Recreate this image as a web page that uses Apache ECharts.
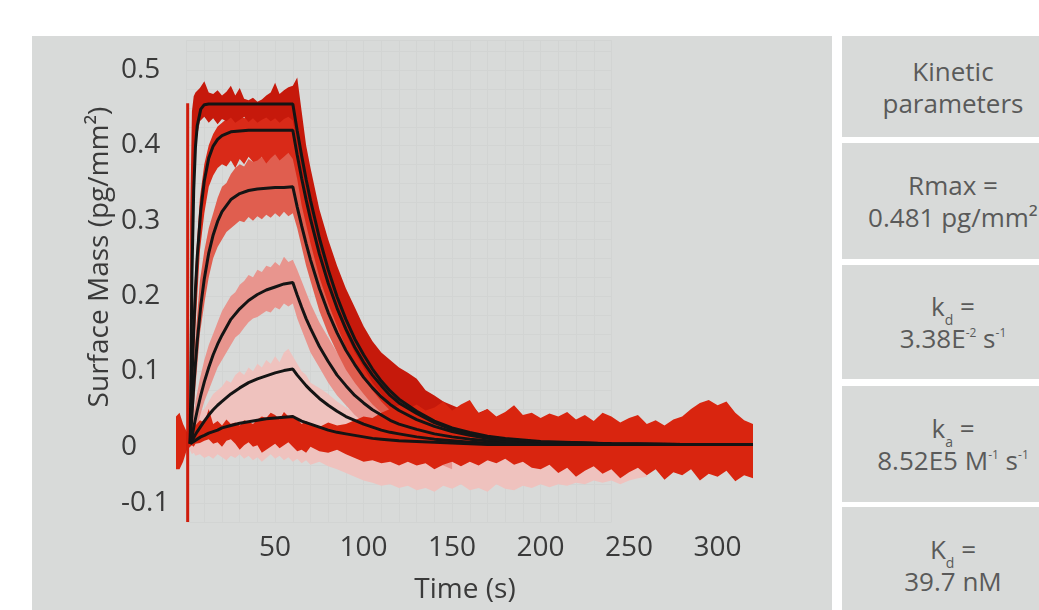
<!DOCTYPE html>
<html>
<head>
<meta charset="utf-8">
<script src="https://cdn.jsdelivr.net/npm/echarts@6.0.0/dist/echarts.min.js"></script>
<style>
  body { margin: 0; background: #fff; overflow: hidden; width: 1039px; height: 610px; }
  #chart { position: absolute; left: 32px; top: 36px; width: 800px; height: 574px; background: #d8dad9; }
  .box {
    position: absolute; left: 842px; width: 222px; background: #d8dad9;
    display: flex; align-items: center; justify-content: center; text-align: center;
    font-family: 'Open Sans', sans-serif; font-size: 26px; line-height: 32px; color: #5a5a5a;
  }
  .box sub, .box sup { position: relative; vertical-align: baseline; line-height: 0; }
  .box sub { font-size: 14px; top: 9px; }
  .box sup { font-size: 12px; top: -11px; }
</style>
</head>
<body>
<div id="chart"></div>
<div class="box" style="top:36px;height:101px">Kinetic<br>parameters</div>
<div class="box" style="top:143px;height:116px">Rmax =<br>0.481 pg/mm²</div>
<div class="box" style="top:265px;height:114px"><span>k<sub>d</sub> =<br>3.38E<sup>-2</sup> s<sup>-1</sup></span></div>
<div class="box" style="top:386px;height:116px"><span>k<sub>a</sub> =<br>8.52E5 M<sup>-1</sup> s<sup>-1</sup></span></div>
<div class="box" style="top:507px;height:115px"><span>K<sub>d</sub> =<br>39.7 nM</span></div>
<script>
// time axis for the measured (noisy) traces, seconds
const bandTimes = [-6, -4, -2, 0, 2, 3, 4, 5,
    7.5, 10, 12.5, 15, 17.5, 20, 22.5, 25, 27.5, 30, 32.5, 35, 37.5, 40, 42.5, 45, 47.5, 50, 52.5, 55, 57.5, 60,
    62.5, 65, 67.5, 70,
    75, 80, 85, 90, 95, 100, 105, 110, 115, 120, 125, 130, 135, 140, 145, 150, 155, 160, 165, 170,
    175, 180, 185, 190, 195, 200, 205, 210, 215, 220, 225, 230, 235, 240, 245, 250, 255, 260, 265, 270,
    275, 280, 285, 290, 295, 300, 305, 310, 315, 320];

const N = null;
const n30 = Array(30).fill(null);
const n34 = Array(34).fill(null);
const n12 = Array(12).fill(null);

// highest concentration, dark red
const hi1 = [N, N, N, N, 0.30, 0.445, 0.465, 0.47,
    0.476, 0.485, 0.47, 0.468, 0.473, 0.466, 0.471, 0.479, 0.466, 0.476, 0.462, 0.46, 0.463, 0.458, 0.461, 0.466, 0.47, 0.483, 0.468, 0.473, 0.477, 0.479,
    0.49, 0.445, 0.40, 0.37,
    0.315, 0.275, 0.24, 0.21, 0.185, 0.16, 0.14, 0.125, 0.115, 0.105, 0.098, 0.09, 0.075, 0.068, 0.06, 0.055, 0.05, 0.058, 0.045, 0.05, ...n30];
const lo1 = [N, N, N, N, 0.0, 0.20, 0.33, 0.40,
    0.432, 0.438, 0.43, 0.436, 0.428, 0.435, 0.432, 0.437, 0.43, 0.434, 0.438, 0.431, 0.436, 0.43, 0.434, 0.437, 0.432, 0.436, 0.43, 0.435, 0.438, 0.433,
    0.40, 0.365, 0.33, 0.305,
    0.255, 0.215, 0.18, 0.15, 0.125, 0.105, 0.085, 0.07, 0.055, 0.045, 0.035, 0.025, 0.015, 0.008, 0.0, -0.005, -0.01, -0.012, -0.015, -0.018, ...n30];

const hi2 = [N, N, N, N, 0.05, 0.12, 0.19, 0.24,
    0.33, 0.375, 0.40, 0.415, 0.425, 0.43, 0.435, 0.44, 0.438, 0.442, 0.436, 0.44, 0.445, 0.438, 0.442, 0.44, 0.445, 0.44, 0.446, 0.44, 0.445, 0.442,
    0.41, 0.38, 0.35, 0.325,
    0.28, 0.24, 0.205, 0.178, 0.155, 0.135, 0.118, 0.104, 0.09, 0.08, 0.072, 0.065, 0.058, 0.052, 0.048, 0.044, 0.04, 0.045, 0.04, 0.042, ...n30];
const lo2 = [N, N, N, N, 0.0, 0.04, 0.11, 0.16,
    0.26, 0.31, 0.345, 0.36, 0.37, 0.375, 0.372, 0.38, 0.37, 0.382, 0.375, 0.385, 0.378, 0.38, 0.385, 0.376, 0.383, 0.388, 0.38, 0.385, 0.39, 0.382,
    0.355, 0.32, 0.295, 0.27,
    0.225, 0.19, 0.16, 0.132, 0.11, 0.09, 0.075, 0.06, 0.048, 0.038, 0.03, 0.022, 0.015, 0.008, 0.002, -0.004, -0.008, -0.012, -0.01, -0.015, ...n30];

const hi3 = [N, N, N, N, 0.03, 0.07, 0.11, 0.145,
    0.22, 0.26, 0.29, 0.31, 0.33, 0.345, 0.35, 0.362, 0.37, 0.375, 0.372, 0.382, 0.378, 0.388, 0.384, 0.395, 0.39, 0.40, 0.392, 0.402, 0.396, 0.398,
    0.36, 0.33, 0.305, 0.28,
    0.24, 0.205, 0.178, 0.155, 0.135, 0.118, 0.102, 0.09, 0.08, 0.07, 0.062, 0.055, 0.05, 0.045, 0.04, 0.035, ...n34];
const lo3 = [N, N, N, N, 0.0, 0.02, 0.05, 0.08,
    0.15, 0.19, 0.225, 0.25, 0.265, 0.275, 0.285, 0.29, 0.295, 0.30, 0.298, 0.305, 0.30, 0.306, 0.302, 0.308, 0.304, 0.31, 0.305, 0.312, 0.306, 0.31,
    0.29, 0.265, 0.24, 0.22,
    0.18, 0.15, 0.125, 0.102, 0.085, 0.07, 0.056, 0.045, 0.035, 0.028, 0.02, 0.014, 0.008, 0.002, -0.004, -0.008, ...n34];

const hi4 = [N, N, N, N, 0.02, 0.03, 0.045, 0.06,
    0.09, 0.115, 0.135, 0.15, 0.165, 0.18, 0.19, 0.2, 0.205, 0.215, 0.22, 0.228, 0.225, 0.235, 0.232, 0.24, 0.238, 0.245, 0.24, 0.252, 0.245, 0.248,
    0.235, 0.22, 0.205, 0.19,
    0.165, 0.145, 0.125, 0.108, 0.095, 0.082, 0.072, 0.062, 0.055, 0.048, 0.04, 0.035, 0.03, 0.025, 0.02, 0.015, ...n34];
const lo4 = [N, N, N, N, 0.0, 0.005, 0.01, 0.015,
    0.04, 0.06, 0.075, 0.09, 0.105, 0.115, 0.125, 0.135, 0.145, 0.15, 0.158, 0.165, 0.17, 0.172, 0.176, 0.18, 0.178, 0.185, 0.182, 0.19, 0.186, 0.19,
    0.17, 0.155, 0.14, 0.125,
    0.105, 0.085, 0.068, 0.055, 0.042, 0.032, 0.022, 0.015, 0.008, 0.0, -0.005, -0.01, -0.015, -0.02, -0.025, -0.03, ...n34];

// lowest concentrations, light pink (drifts below zero after injection)
const hi5 = [N, N, N, N, 0.02, 0.025, 0.03, 0.035,
    0.045, 0.05, 0.06, 0.07, 0.075, 0.08, 0.088, 0.085, 0.095, 0.10, 0.095, 0.105, 0.10, 0.11, 0.105, 0.115, 0.11, 0.12, 0.112, 0.125, 0.13, 0.12,
    0.11, 0.10, 0.095, 0.085,
    0.078, 0.07, 0.06, 0.052, 0.045, 0.035, 0.03, 0.022, 0.015, 0.01, 0.005, 0.0, -0.005, -0.008, -0.005, -0.01, -0.012, -0.008, -0.01, -0.012,
    -0.015, -0.01, -0.012, -0.015, -0.01, -0.012, -0.015, -0.012, -0.015, -0.02, -0.018, -0.02, -0.02, -0.022, -0.02, -0.025, -0.022, -0.028, ...n12];
const lo5 = [N, N, N, N, -0.005, -0.01, -0.008, -0.012,
    -0.01, -0.015, -0.012, -0.016, -0.01, -0.014, -0.018, -0.012, -0.015, -0.01, -0.016, -0.012, -0.018, -0.014, -0.02, -0.015, -0.01, -0.016, -0.012, -0.018, -0.014, -0.02,
    -0.016, -0.022, -0.018, -0.024,
    -0.02, -0.026, -0.03, -0.035, -0.04, -0.045, -0.048, -0.052, -0.05, -0.055, -0.052, -0.058, -0.055, -0.06, -0.052, -0.056, -0.05, -0.058, -0.055, -0.06,
    -0.05, -0.056, -0.058, -0.052, -0.055, -0.05, -0.054, -0.05, -0.052, -0.048, -0.05, -0.045, -0.048, -0.045, -0.05, -0.045, -0.042, -0.04, ...n12];

// bright red trace around the baseline, runs to the end
const hi6 = [0.04, 0.045, 0.03, 0.02, 0.02, 0.025, 0.03, 0.028,
    0.035, 0.032, 0.05, 0.03, 0.034, 0.028, 0.036, 0.03, 0.032, 0.028, 0.035, 0.033, 0.03, 0.036, 0.04, 0.038, 0.045, 0.042, 0.036, 0.046, 0.04, 0.042,
    0.036, 0.03, 0.034, 0.03,
    0.026, 0.032, 0.028, 0.03, 0.035, 0.04, 0.038, 0.045, 0.05, 0.055, 0.05, 0.056, 0.048, 0.052, 0.06, 0.048, 0.056, 0.062, 0.044, 0.05,
    0.04, 0.046, 0.055, 0.042, 0.045, 0.038, 0.044, 0.04, 0.046, 0.036, 0.042, 0.034, 0.045, 0.04, 0.032, 0.038, 0.042, 0.03, 0.035, 0.028,
    0.036, 0.04, 0.05, 0.058, 0.062, 0.055, 0.06, 0.045, 0.035, 0.03];
const lo6 = [-0.03, -0.03, -0.02, -0.005, 0.0, 0.002, 0.0, 0.004,
    0.005, 0.008, 0.01, 0.004, 0.006, 0.0, 0.008, 0.01, 0.004, -0.004, 0.002, 0.006, 0.0, 0.002, -0.008, -0.004, 0.0, 0.004, -0.002, 0.002, 0.006, 0.0,
    -0.006, -0.004, -0.008, 0.0,
    -0.006, -0.008, -0.004, -0.01, -0.015, -0.02, -0.018, -0.022, -0.02, -0.025, -0.02, -0.025, -0.022, -0.03, -0.024, -0.02, -0.026, -0.02, -0.025, -0.018,
    -0.022, -0.016, -0.024, -0.02, -0.028, -0.03, -0.024, -0.035, -0.028, -0.04, -0.032, -0.026, -0.036, -0.03, -0.042, -0.034, -0.028, -0.038, -0.03, -0.044,
    -0.034, -0.038, -0.03, -0.045, -0.036, -0.04, -0.032, -0.046, -0.038, -0.042];

// injection artefact
const spikeTime = 0.6;
const spikeRange = [-0.1, 0.456];

// fitted curves (black)
const fitTimes = [2, 3, 4, 5, 6, 8, 10, 12.5, 15, 17.5, 20, 25, 30, 35, 40, 45, 50, 55, 60,
    62.5, 65, 67.5, 70, 75, 80, 85, 90, 95, 100, 105, 110, 115, 120, 130, 140, 150, 160, 170, 180, 200, 240, 280, 320];
const fit1 = [0.004, 0.227, 0.34, 0.398, 0.426, 0.448, 0.454, 0.455, 0.455, 0.455, 0.455, 0.455, 0.455, 0.455, 0.455, 0.455, 0.455, 0.455, 0.455,
    0.419, 0.386, 0.355, 0.327, 0.277, 0.235, 0.199, 0.169, 0.143, 0.122, 0.103, 0.087, 0.074, 0.063, 0.047, 0.034, 0.025, 0.019, 0.014, 0.011, 0.007, 0.004, 0.003, 0.003];
const fit2 = [0.004, 0.086, 0.155, 0.209, 0.252, 0.314, 0.353, 0.383, 0.399, 0.408, 0.413, 0.418, 0.419, 0.42, 0.42, 0.42, 0.42, 0.42, 0.42,
    0.387, 0.356, 0.328, 0.302, 0.256, 0.217, 0.184, 0.156, 0.132, 0.112, 0.095, 0.081, 0.068, 0.058, 0.044, 0.032, 0.023, 0.017, 0.013, 0.01, 0.006, 0.004, 0.003, 0.003];
const fit3 = [0.004, 0.042, 0.079, 0.111, 0.14, 0.187, 0.223, 0.257, 0.281, 0.299, 0.312, 0.328, 0.336, 0.34, 0.342, 0.343, 0.344, 0.344, 0.345,
    0.318, 0.293, 0.27, 0.248, 0.21, 0.178, 0.151, 0.128, 0.109, 0.092, 0.078, 0.066, 0.056, 0.048, 0.036, 0.027, 0.02, 0.015, 0.011, 0.009, 0.006, 0.004, 0.003, 0.003];
const fit4 = [0.004, 0.013, 0.025, 0.037, 0.048, 0.068, 0.086, 0.105, 0.122, 0.136, 0.148, 0.169, 0.183, 0.194, 0.202, 0.208, 0.212, 0.216, 0.218,
    0.201, 0.185, 0.17, 0.157, 0.133, 0.113, 0.095, 0.081, 0.068, 0.058, 0.049, 0.042, 0.035, 0.03, 0.023, 0.017, 0.013, 0.01, 0.008, 0.006, 0.004, 0.003, 0.003, 0.003];
const fit5 = [0.004, 0.008, 0.012, 0.016, 0.02, 0.027, 0.034, 0.042, 0.049, 0.055, 0.06, 0.07, 0.078, 0.085, 0.09, 0.094, 0.098, 0.101, 0.103,
    0.095, 0.088, 0.081, 0.075, 0.064, 0.055, 0.047, 0.04, 0.035, 0.03, 0.026, 0.022, 0.019, 0.017, 0.013, 0.01, 0.008, 0.006, 0.005, 0.004, 0.003, 0.003, 0.003, 0.003];
const fit6 = [0.004, 0.006, 0.007, 0.009, 0.01, 0.013, 0.015, 0.018, 0.02, 0.022, 0.025, 0.028, 0.031, 0.033, 0.035, 0.037, 0.038, 0.039, 0.04,
    0.037, 0.034, 0.032, 0.03, 0.026, 0.022, 0.019, 0.017, 0.015, 0.013, 0.011, 0.01, 0.009, 0.008, 0.007, 0.006, 0.005, 0.004, 0.003, 0.003, 0.003, 0.003, 0.003, 0.003];

const xTickLabels = [50, 100, 150, 200, 250, 300];

const labelFont = { fontFamily: 'Open Sans', fontSize: 28, color: '#3a3a3a' };

function bandSeries(hi, lo, color) {
    return {
        type: 'custom',
        coordinateSystem: 'cartesian2d',
        xAxisIndex: 0,
        yAxisIndex: 0,
        silent: true,
        clip: true,
        data: [[0, 0]],
        renderItem: function (params, api) {
            const top = [], bottom = [];
            for (let i = 0; i < bandTimes.length; i++) {
                if (hi[i] == null) continue;
                top.push(api.coord([bandTimes[i], hi[i]]));
                bottom.unshift(api.coord([bandTimes[i], lo[i]]));
            }
            return { type: 'polygon', shape: { points: top.concat(bottom) }, style: { fill: color } };
        }
    };
}

function fitSeries(values) {
    return {
        type: 'line',
        xAxisIndex: 0,
        yAxisIndex: 0,
        silent: true,
        symbol: 'none',
        z: 5,
        lineStyle: { color: '#141414', width: 3 },
        data: fitTimes.map((t, i) => [t, values[i]])
    };
}

const myChart = echarts.init(document.getElementById('chart'));
myChart.setOption({
    animation: false,
    grid: [
        { left: 144, right: 79, top: 34, bottom: 88 },
        { left: 154.5, width: 425, top: 4.2, bottom: 88 }
    ],
    xAxis: [{
        type: 'value', min: -6, max: 320, gridIndex: 0,
        axisLine: { show: false }, axisTick: { show: false }, splitLine: { show: false },
        axisLabel: Object.assign({ customValues: xTickLabels, margin: 12 }, labelFont)
    }, {
        type: 'value', min: 0, max: 240, interval: 10, gridIndex: 1,
        axisLine: { show: false }, axisTick: { show: false }, axisLabel: { show: false },
        splitLine: { lineStyle: { color: '#d2d4d3', width: 1 } }
    }],
    yAxis: [{
        type: 'value', min: -0.1, max: 0.5, interval: 0.1, gridIndex: 0,
        axisLine: { show: false }, axisTick: { show: false }, splitLine: { show: false },
        axisLabel: Object.assign({
            align: 'left', margin: 55,
            formatter: function (v) {
                const s = String(Math.round(v * 10) / 10);
                return s === '-0.1' ? '{up|' + s + '}' : s;
            },
            rich: { up: Object.assign({ padding: [0, 0, 38, 0] }, labelFont) }
        }, labelFont)
    }, {
        type: 'value', min: -0.1, max: 0.54, interval: 0.025, gridIndex: 1,
        axisLine: { show: false }, axisTick: { show: false }, axisLabel: { show: false },
        splitLine: { lineStyle: { color: '#d2d4d3', width: 1 } }
    }],
    graphic: [{
        type: 'text', position: [433, 554], z: 10,
        style: { text: 'Time (s)', x: 0, y: 0, textAlign: 'center', textVerticalAlign: 'middle',
            font: '28px "Open Sans"', fill: '#3a3a3a' }
    }, {
        type: 'text', position: [68, 221], rotation: Math.PI / 2, z: 10,
        style: { text: 'Surface Mass (pg/mm²)', x: 0, y: 0, textAlign: 'center', textVerticalAlign: 'middle',
            font: '28px "Open Sans"', fill: '#3a3a3a' }
    }],
    series: [
        bandSeries(hi5, lo5, '#efc2be'),
        bandSeries(hi4, lo4, '#e8958e'),
        bandSeries(hi3, lo3, '#e05e4f'),
        bandSeries(hi2, lo2, '#d92a18'),
        bandSeries(hi1, lo1, '#c6190b'),
        bandSeries(hi6, lo6, '#d9250f'),
        {
            type: 'line', xAxisIndex: 0, yAxisIndex: 0, silent: true, symbol: 'none', z: 3,
            lineStyle: { color: '#cf1c0c', width: 3 },
            data: [[spikeTime, spikeRange[0]], [spikeTime, spikeRange[1]]]
        },
        fitSeries(fit1), fitSeries(fit2), fitSeries(fit3),
        fitSeries(fit4), fitSeries(fit5), fitSeries(fit6)
    ]
});
</script>
</body>
</html>
